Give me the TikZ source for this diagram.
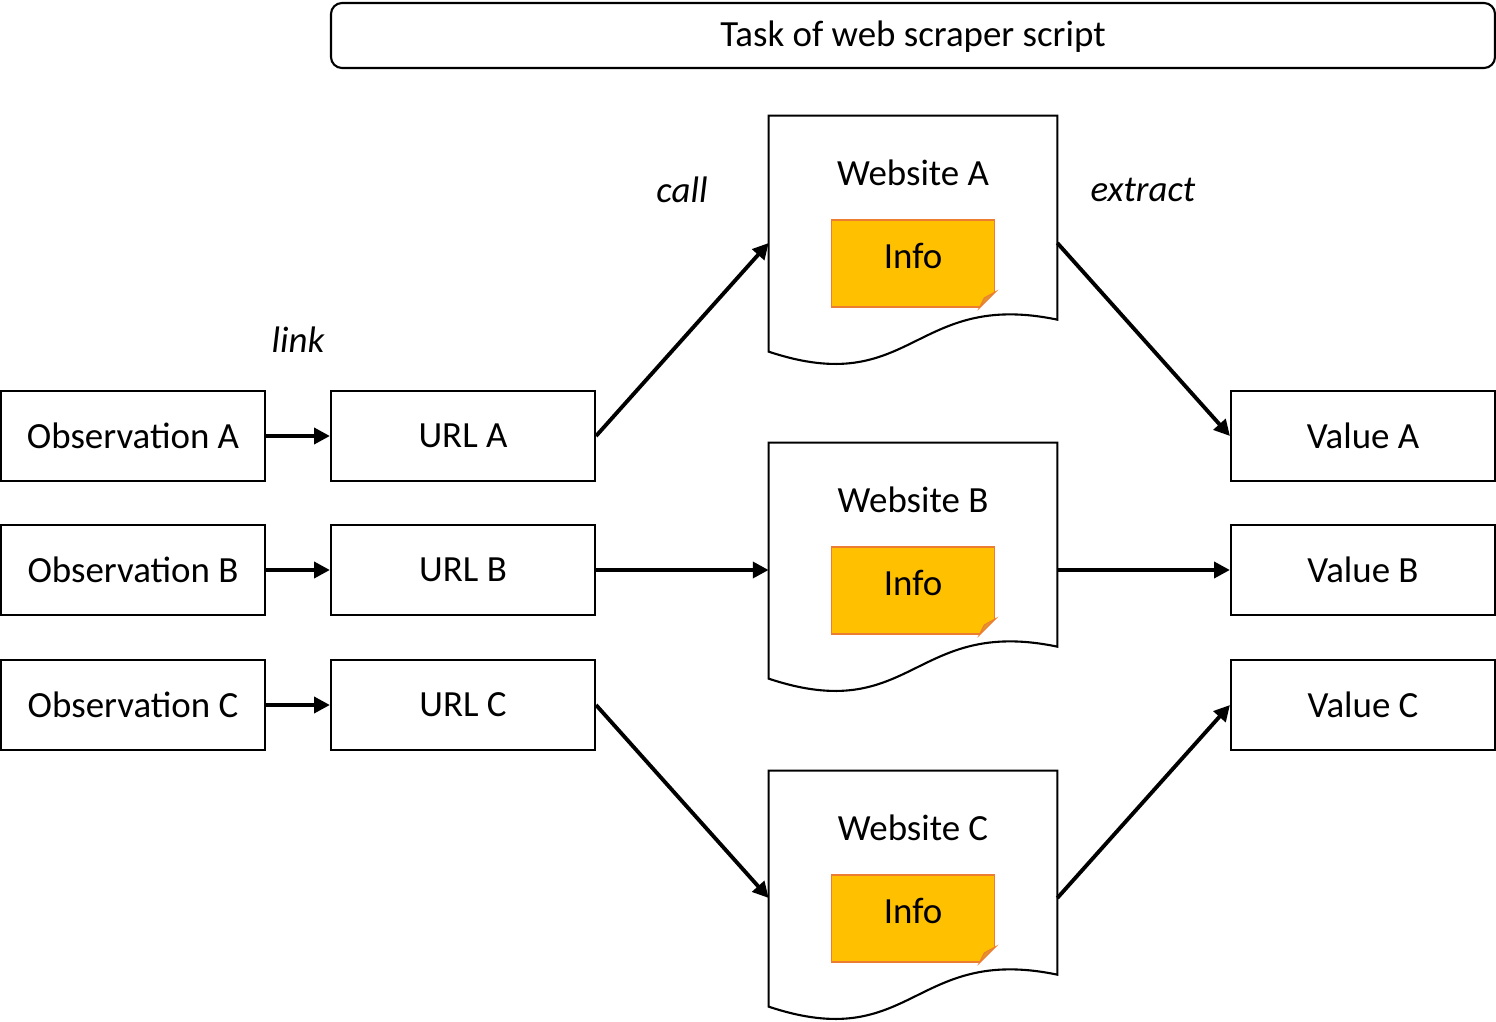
\documentclass[tikz,border=0pt]{standalone}
\usepackage{fontspec}
\setmainfont{Carlito}
\usepackage{xcolor}
\usepackage{tikz}
\usetikzlibrary{positioning,calc,arrows.meta}
\definecolor{InfoYellow}{RGB}{255,192,0}
\definecolor{InfoOrange}{RGB}{237,125,49}
\definecolor{FoldOrange}{RGB}{224,150,45}

\begin{document}
\begin{tikzpicture}[
                font=\fontsize{21}{25}\selectfont,
                % Styles for the boxes
                boxnode/.style={rectangle, draw=black, line width=1.2pt, minimum width=5.28cm, minimum height=1.8cm, inner sep=0pt},
                titlenode/.style={rectangle, rounded corners=0.22cm, draw=black, line width=1.2pt, minimum width=23.28cm, minimum height=1.3cm, inner sep=0pt, text height=0.46cm, text depth=0cm},
                webnode/.style={rectangle, minimum width=5.76cm, minimum height=5.08cm, inner sep=0pt},
                infonode/.style={rectangle, draw=InfoOrange, fill=InfoYellow, line width=1pt, minimum width=3.26cm, minimum height=1.74cm, inner sep=0pt, text height=0.46cm, text depth=0.26cm},
                docshape/.style={draw=black, line width=1.2pt, fill=white},
                % Edge styles
                arrowedge/.style={-{Triangle[length=9pt,width=9pt]}, line width=2.2pt},
                edgelabel/.style={font=\fontsize{21}{25}\selectfont\itshape}
            ]
                \useasboundingbox (0,0) rectangle (29.92,-20.44);

                % --- TITLE ---
                \node[titlenode] (title) at (18.26,-0.71) {Task of web scraper script};

                % --- OBSERVATIONS ---
                \node[boxnode] (obsA) at (2.66,-8.72) {Observation A};
                \node[boxnode] (obsB) at (2.66,-11.40) {Observation B};
                \node[boxnode] (obsC) at (2.66,-14.10) {Observation C};

                % --- URLS ---
                \node[boxnode] (urlA) at (9.26,-8.72) {URL A};
                \node[boxnode] (urlB) at (9.26,-11.40) {URL B};
                \node[boxnode] (urlC) at (9.26,-14.10) {URL C};

                % --- VALUES ---
                \node[boxnode] (valA) at (27.26,-8.72) {Value A};
                \node[boxnode] (valB) at (27.26,-11.40) {Value B};
                \node[boxnode] (valC) at (27.26,-14.10) {Value C};

                % --- WEBSITES ---
                \node[webnode] (webA) at (18.26,-4.86) {};
                \node[webnode] (webB) at (18.26,-11.40) {};
                \node[webnode] (webC) at (18.26,-17.96) {};

                \foreach \w/\l in {webA/A, webB/B, webC/C} {
                    \draw[docshape] (\w.north west) -- (\w.north east) -- ($(\w.north east)+(0,-4.08)$)
                        .. controls ($(\w.north)+(0,-3.48)$) and ($(\w.north)+(0,-5.68)$) .. ($(\w.north west)+(0,-4.72)$) -- cycle;
                    \node (\w title) at ($(\w.north)+(0,-1.14)$) {Website \l};
                    \node[infonode] (\w info) at ($(\w.center)+(0,-0.41)$) {Info};
                    % folded corner
                    \fill[white] ($(\w info.south east)+(-0.32,0)$) -- ($(\w info.south east)+(0.05,0)$) -- ($(\w info.south east)+(0.05,0.34)$) -- ($(\w info.south east)+(0,0.32)$) -- cycle;
                    \filldraw[fill=FoldOrange, draw=InfoOrange, line width=0.6pt] ($(\w info.south east)+(-0.32,0)$) -- ($(\w info.south east)+(0,0.32)$) -- ($(\w info.south east)+(-0.22,0.2)$) -- cycle;
                }

                % --- ARROWS ---
                \draw[arrowedge] (obsA) -- (urlA);
                \draw[arrowedge] (obsB) -- (urlB);
                \draw[arrowedge] (obsC) -- (urlC);

                \draw[arrowedge] (urlA.east) -- (webA.west);
                \draw[arrowedge] (urlB.east) -- (webB.west);
                \draw[arrowedge] (urlC.east) -- (webC.west);

                \draw[arrowedge] (webA.east) -- (valA.west);
                \draw[arrowedge] (webB.east) -- (valB.west);
                \draw[arrowedge] (webC.east) -- (valC.west);

                % --- LABELS ---
                \node[edgelabel] (linklabel) at (5.96,-6.80) {link};
                \node[edgelabel] (calllabel) at (13.64,-3.80) {call};
                \node[edgelabel] (extractlabel) at (22.86,-3.80) {extract};

            \end{tikzpicture}
\end{document}
